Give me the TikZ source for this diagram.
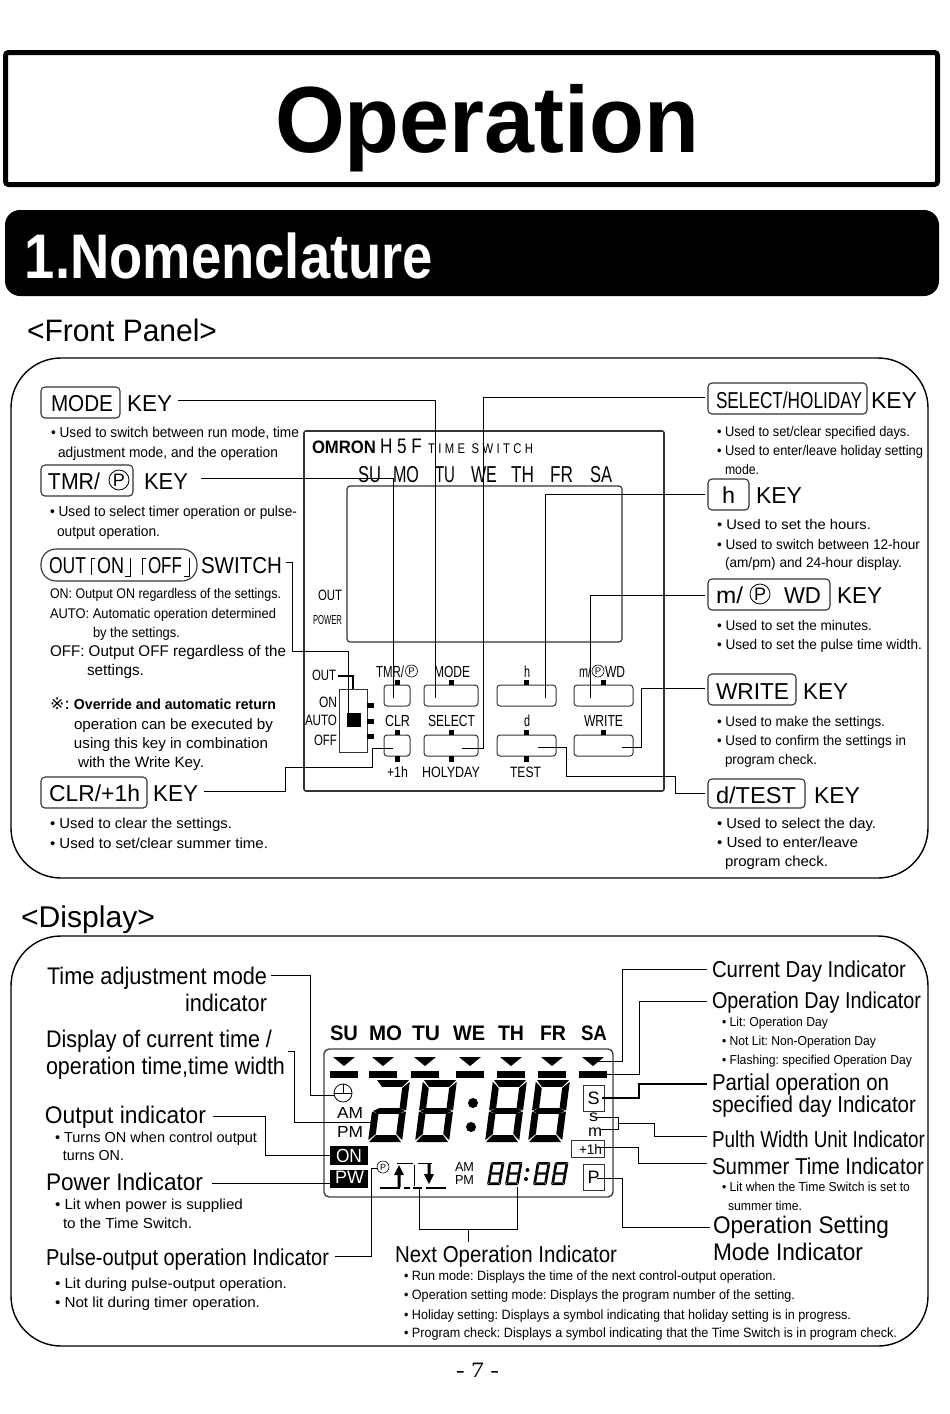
\documentclass[tikz,border=0pt]{standalone}
\usepackage{fontspec}
\usepackage{graphicx}
\setmainfont{Liberation Sans}
\newfontfamily\djv{DejaVu Sans}
\newfontfamily\lsfont[LetterSpace=30]{Liberation Sans}
\newfontfamily\srf{Liberation Serif}
\newsavebox\fitbox
\newlength\fitlen
% [options]{name}{x}{baseline y}{size}{right x}{text}
\newcommand\Tx[7][]{\node[anchor=base west,inner sep=0pt,outer sep=0pt,#1] (#2) at (#3,#4) {%
  \sbox\fitbox{\frenchspacing\fontsize{#5}{#5}\selectfont #7}%
  \fitlen=\wd\fitbox
  \pgfmathsetmacro\fitr{(#6-#3)/\fitlen}%
  \scalebox{\fitr}[1]{\usebox\fitbox}};}
% {name}{x1}{y1}{x2}{y2}
\newcommand\KB[6][]{\node[keybox,anchor=north west,minimum width={(#5-#3)*1pt},minimum height={(#6-#4)*1pt},#1] (#2) at (#3,#4) {};}
% {x of top-left}{y of top}{w}{h}{slant}{show upper-left}
\newcommand\SevenSeg[6]{\begin{scope}[shift={(#1-#5,#2+#4)},x={(#3pt,0pt)},y={(#5pt,#4pt)}]
 \fill (.03,1)--(.97,1)--(.8,.89)--(.2,.89)--cycle;
 \ifnum#6=1 \fill (0,.97)--(.2,.87)--(.2,.54)--(0,.51)--cycle;\fi
 \fill (1,.97)--(.8,.87)--(.8,.54)--(1,.51)--cycle;
 \fill (.03,.5)--(.2,.455)--(.8,.455)--(.97,.5)--(.8,.545)--(.2,.545)--cycle;
 \fill (0,.49)--(.2,.46)--(.2,.13)--(0,.03)--cycle;
 \fill (1,.49)--(.8,.46)--(.8,.13)--(1,.03)--cycle;
 \fill (.03,0)--(.97,0)--(.8,.11)--(.2,.11)--cycle;
\end{scope}}
\tikzset{
 conn/.style={draw=black,line width=1pt},
 keybox/.style={draw=black!80,line width=1.1pt,rounded corners=4pt,inner sep=0pt,outer sep=0pt},
 panelkey/.style={keybox,line width=1pt,rounded corners=3pt},
 cp/.style={circle,draw=black,line width=.8pt,inner sep=0pt,outer sep=0pt},
 frame/.style={draw=black,line width=1.4pt,rounded corners=50pt,anchor=north west,inner sep=0pt,outer sep=0pt},
}
\begin{document}
\begin{tikzpicture}[x=1pt,y=-1pt]
\useasboundingbox (0,0) rectangle (950,1414);
\fill[white] (0,0) rectangle (950,1414);
% title
\node[draw=black,line width=5pt,rounded corners=3pt,anchor=north west,minimum width=932pt,minimum height=132pt,inner sep=0pt,outer sep=0pt] (titlebox) at (5.5,52.5) {};
\Tx[font=\bfseries]{title}{275}{152}{94}{699}{Operation}
\node[fill=black,rounded corners=15pt,anchor=north west,minimum width=934pt,minimum height=86pt,inner sep=0pt,outer sep=0pt] (bar) at (5,210) {};
\Tx[font=\bfseries,text=white]{nomen}{25}{278}{63}{433}{1.Nomenclature}
\Tx{frontp}{27}{341}{31}{217}{<Front Panel>}
\node[frame,minimum width=917pt,minimum height=520pt] (frontgroup) at (11,358) {};
\Tx{dispt}{21}{927}{30}{155}{<Display>}
\node[frame,minimum width=917pt,minimum height=410pt] (dispgroup) at (11,936) {};

%% ---------- front panel, left
\KB{bMode}{41}{387}{120}{418}
\Tx{tMode}{51}{411}{23}{113}{MODE}
\Tx{kMode}{127}{411}{23}{172}{KEY}
\Tx{l1}{51}{437}{14.5}{299}{• Used to switch between run mode, time}
\Tx{l2}{58}{457}{14.5}{278}{adjustment mode, and the operation}
\KB{bTmr}{41}{465}{133}{496}
\Tx{tTmr}{48}{489}{23}{100}{TMR/}
\node[cp,minimum size=20pt] (pTmr) at (119,480) {\fontsize{18}{18}\selectfont P};
\Tx{kTmr}{144}{489}{23}{188}{KEY}
\Tx{l3}{50}{516}{14.5}{297}{• Used to select timer operation or pulse-}
\Tx{l4}{57}{536}{14.5}{160}{output operation.}
\KB[rounded corners=15pt]{bOut}{41}{549}{197}{581}
\Tx{tOut}{49}{573}{23}{86}{OUT}
\Tx{tOn}{97}{573}{23}{124}{ON}
\Tx{tOff}{148}{573}{23}{182}{OFF}
\draw[line width=.9pt] (95,558)--(91,558)--(91,575);
\draw[line width=.9pt] (125,576)--(130,576)--(130,558);
\draw[line width=.9pt] (146,558)--(142,558)--(142,575);
\draw[line width=.9pt] (184,576)--(189,576)--(189,558);
\Tx{kSwitch}{201}{573}{23}{282}{SWITCH}
\Tx{l5}{50}{598}{14}{281}{ON: Output ON regardless of the settings.}
\Tx{l6}{50}{618}{14}{276}{AUTO: Automatic operation determined}
\Tx{l7}{93}{637}{14}{180}{by the settings.}
\Tx{l8}{50}{656}{15.5}{286}{OFF: Output OFF regardless of the}
\Tx{l9}{87}{675}{15.5}{144}{settings.}
\Tx[font=\djv]{l10a}{50}{709}{16}{70}{※:}
\Tx[font=\bfseries]{l10}{74}{709}{14.5}{276}{Override and automatic return}
\Tx{l11}{74}{729}{15}{273}{operation can be executed by}
\Tx{l12}{74}{748}{15}{268}{using this key in combination}
\Tx{l13}{78}{767}{15}{204}{with the Write Key.}
\KB{bClr}{41}{777}{147}{808}
\Tx{tClr}{49}{801}{23}{140}{CLR/+1h}
\Tx{kClr}{153}{801}{23}{198}{KEY}
\Tx{l14}{50}{828}{14.5}{232}{• Used to clear the settings.}
\Tx{l15}{50}{848}{14.5}{268}{• Used to set/clear summer time.}

%% ---------- front panel, unit
\node[draw=black!80,line width=1.6pt,rounded corners=2pt,anchor=north west,minimum width=360pt,minimum height=360pt,inner sep=0pt,outer sep=0pt] (unit) at (304,431) {};
\Tx[font=\bfseries]{omron}{312}{453}{18}{376}{OMRON}
\Tx{hf}{380}{453}{21}{422}{H 5 F}
\Tx[font=\lsfont]{tsw}{428}{453}{14}{533}{TIME SWITCH}
\Tx{fSU}{358}{482}{23}{381}{SU}
\Tx{fMO}{393}{482}{23}{419}{MO}
\Tx{fTU}{435}{482}{23}{455}{TU}
\Tx{fWE}{471}{482}{23}{497}{WE}
\Tx{fTH}{511}{482}{23}{534}{TH}
\Tx{fFR}{550}{482}{23}{573}{FR}
\Tx{fSA}{590}{482}{23}{612}{SA}
\node[draw=black!80,line width=1.2pt,rounded corners=3pt,anchor=north west,minimum width=275pt,minimum height=156pt,inner sep=0pt,outer sep=0pt] (lcd) at (347,486) {};
\Tx{uOut}{318}{600}{15}{342}{OUT}
\Tx{uPow}{313}{624}{13}{342}{POWER}
\Tx{kl1}{376}{677}{16}{404}{TMR/}
\node[cp,minimum size=12pt,line width=.6pt] (kl1p) at (411.5,671) {\fontsize{9.5}{9.5}\selectfont P};
\Tx{kl2}{434}{677}{16}{470}{MODE}
\Tx{kl3}{524}{677}{16}{530}{h}
\Tx{kl4}{579}{677}{16}{591}{m/}
\node[cp,minimum size=12pt,line width=.6pt] (kl4p) at (598,671) {\fontsize{9.5}{9.5}\selectfont P};
\Tx{kl4b}{605}{677}{16}{625}{WD}
\Tx{kl5}{385}{726}{16}{410}{CLR}
\Tx{kl6}{428}{726}{16}{475}{SELECT}
\Tx{kl7}{524}{726}{16}{530}{d}
\Tx{kl8}{584}{726}{16}{623}{WRITE}
\Tx{kl9}{387}{777}{15}{408}{+1h}
\Tx{kl10}{422}{777}{15}{480}{HOLYDAY}
\Tx{kl11}{510}{777}{15}{541}{TEST}
\KB[panelkey]{pk1}{384}{685}{410}{706}
\KB[panelkey]{pk2}{424}{685}{478}{706}
\KB[panelkey]{pk3}{497}{685}{556}{706}
\KB[panelkey]{pk4}{574}{685}{633}{706}
\KB[panelkey]{pk5}{384}{735}{410}{756}
\KB[panelkey]{pk6}{424}{735}{478}{756}
\KB[panelkey]{pk7}{497}{735}{556}{756}
\KB[panelkey]{pk8}{574}{735}{633}{756}
\foreach \c in {397,451,526.5,603.5}{\fill (\c-2.5,680) rectangle (\c+2.5,685); \fill (\c-2.5,730) rectangle (\c+2.5,735);}
\foreach \c in {397,451,526.5}{\fill (\c-2.5,756) rectangle (\c+2.5,762);}
% switch
\Tx{sOut}{312}{680}{15}{336}{OUT}
\Tx{sOn}{319}{707}{15}{337}{ON}
\Tx{sAuto}{305}{725}{15}{337}{AUTO}
\Tx{sOff}{314}{745}{15}{337}{OFF}
\node[draw=black!80,line width=1pt,anchor=north west,minimum width=28pt,minimum height=63pt,inner sep=0pt,outer sep=0pt] (swbox) at (339,689) {};
\fill (347,713) rectangle (361,727);
\foreach \c in {705,721,736}{\fill (367,\c-2.5) rectangle (374,\c+2.5);}
\draw[line width=2pt] (338,676)--(353,676)--(353,689);

%% ---------- front panel, right
\KB{bSel}{708}{383}{867}{414}
\Tx{tSel}{716}{408}{23}{862}{SELECT/HOLIDAY}
\Tx{kSel}{871}{408}{23}{917}{KEY}
\Tx{r1}{717}{436}{14}{910}{• Used to set/clear specified days.}
\Tx{r2}{717}{455}{14}{923}{• Used to enter/leave holiday setting}
\Tx{r3}{725}{474}{14}{759}{mode.}
\KB{bH}{708}{479}{749}{510}
\Tx{tH}{722}{503}{23}{735}{h}
\Tx{kH}{756}{503}{23}{802}{KEY}
\Tx{r4}{717}{529}{14}{871}{• Used to set the hours.}
\Tx{r5}{717}{549}{14}{920}{• Used to switch between 12-hour}
\Tx{r6}{725}{567}{14}{902}{(am/pm) and 24-hour display.}
\KB{bM}{708}{579}{830}{610}
\Tx{tM}{716}{603}{23}{743}{m/}
\node[cp,minimum size=20pt] (pM) at (760,594) {\fontsize{18}{18}\selectfont P};
\Tx{tWD}{784}{603}{23}{821}{WD}
\Tx{kM}{837}{603}{23}{882}{KEY}
\Tx{r7}{717}{630}{14}{872}{• Used to set the minutes.}
\Tx{r8}{717}{649}{14}{922}{• Used to set the pulse time width.}
\KB{bW}{708}{674}{796}{705}
\Tx{tW}{716}{699}{23}{789}{WRITE}
\Tx{kW}{803}{699}{23}{848}{KEY}
\Tx{r9}{717}{726}{14}{885}{• Used to make the settings.}
\Tx{r10}{717}{745}{14}{906}{• Used to confirm the settings in}
\Tx{r11}{725}{764}{14}{817}{program check.}
\KB{bD}{708}{779}{805}{808}
\Tx{tD}{716}{803}{23}{796}{d/TEST}
\Tx{kD}{814}{803}{23}{860}{KEY}
\Tx{r12}{717}{828}{14.5}{876}{• Used to select the day.}
\Tx{r13}{717}{847}{14.5}{858}{• Used to enter/leave}
\Tx{r14}{725}{866}{14.5}{828}{program check.}

%% ---------- front panel connectors
\coordinate (a1) at (178,400); \coordinate (b1) at (435,698);
\coordinate (a2) at (201,478); \coordinate (b2) at (393,698);
\coordinate (a3) at (286,562); \coordinate (b3) at (348,714);
\coordinate (a4) at (204,791); \coordinate (b4) at (393,748);
\coordinate (a5) at (705,397); \coordinate (b5) at (462,748);
\coordinate (a6) at (705,494); \coordinate (b6) at (545.5,698);
\coordinate (a7) at (705,595); \coordinate (b7) at (590,698);
\coordinate (a8) at (705,688); \coordinate (b8) at (622,747);
\coordinate (a9) at (705,793); \coordinate (b9) at (538,747);
\draw[conn] (a1) -| (b1);
\draw[conn] (a2) -| (b2);
\draw[conn] (a3) -- (292,562) -- (292,651) -- (348,651) -- (b3);
\draw[conn] (a4) -- (285,791) -- (285,767) -- (372,767) -- (372,748) -- (b4);
\draw[conn] (a5) -- (483,397) -- (483,748) -- (b5);
\draw[conn] (a6) -| (b6);
\draw[conn] (a7) -| (b7);
\draw[conn] (a8) -- (641,688) -- (641,747) -- (b8);
\draw[conn] (a9) -- (675,793) -- (675,776) -- (566,776) -- (566,747) -- (b9);

%% ---------- display, left
\Tx{d1}{47}{984}{24}{267}{Time adjustment mode}
\Tx{d2}{185}{1011}{24}{267}{indicator}
\Tx{d3}{46}{1047}{24}{272}{Display of current time /}
\Tx{d4}{46}{1074}{24}{285}{operation time,time width}
\Tx{d5}{45}{1123}{24}{206}{Output indicator}
\Tx{d6}{55}{1142}{14.5}{257}{• Turns ON when control output}
\Tx{d7}{63}{1160}{14.5}{124}{turns ON.}
\Tx{d8}{46}{1190}{24}{203}{Power Indicator}
\Tx{d9}{55}{1209}{14.5}{243}{• Lit when power is supplied}
\Tx{d10}{63}{1228}{14.5}{192}{to the Time Switch.}
\Tx{d11}{46}{1265}{23}{329}{Pulse-output operation Indicator}
\Tx{d12}{55}{1288}{14.5}{287}{• Lit during pulse-output operation.}
\Tx{d13}{55}{1307}{14.5}{260}{• Not lit during timer operation.}

%% ---------- LCD
\Tx[font=\bfseries]{gSU}{330}{1040}{21}{358}{SU}
\Tx[font=\bfseries]{gMO}{369}{1040}{21}{402}{MO}
\Tx[font=\bfseries]{gTU}{412}{1040}{21}{440}{TU}
\Tx[font=\bfseries]{gWE}{453}{1040}{21}{485}{WE}
\Tx[font=\bfseries]{gTH}{498}{1040}{21}{524}{TH}
\Tx[font=\bfseries]{gFR}{540}{1040}{21}{566}{FR}
\Tx[font=\bfseries]{gSA}{581}{1040}{21}{607}{SA}
\node[draw=black!75,line width=1.4pt,rounded corners=5pt,anchor=north west,minimum width=289pt,minimum height=148pt,inner sep=0pt,outer sep=0pt] (dlcd) at (324,1049) {};
\foreach \c in {344,383,425,470,511,552,593}{
  \fill (\c-11,1057) -- (\c+11,1057) -- (\c,1066) -- cycle;
  \fill (\c-14,1071) rectangle (\c+14,1078);}
\node[cp,minimum size=18pt] (clock) at (343,1093) {};
\draw[line width=.8pt] (clock.west) -- (clock.east);
\draw[line width=.8pt] (clock.north) -- (clock.center);
\Tx{dAM}{337}{1118}{16}{363}{AM}
\Tx{dPM}{337}{1137}{16}{363}{PM}
\SevenSeg{376}{1080}{34}{62}{8}{0}
\SevenSeg{423}{1080}{34}{62}{8}{1}
\SevenSeg{493}{1080}{34}{62}{8}{1}
\SevenSeg{536}{1080}{34}{62}{8}{1}
\fill (473,1103) circle (5pt) (471,1127) circle (5pt);
\node[fill=black,anchor=north west,minimum width=38pt,minimum height=19pt,inner sep=0pt,outer sep=0pt] (onbox) at (330,1146) {};
\Tx[text=white]{onT}{336}{1162}{19}{362}{ON}
\node[fill=black,anchor=north west,minimum width=38pt,minimum height=18pt,inner sep=0pt,outer sep=0pt] (pwbox) at (330,1170) {};
\Tx[text=white]{pwT}{335}{1183}{18}{364}{PW}
\node[cp,minimum size=12pt,line width=.6pt] (pSmall) at (383,1167) {\fontsize{9}{9}\selectfont P};
\draw[line width=.8pt] (397,1163)--(413,1163) (418,1163)--(432,1163) (414,1165)--(414,1186);
\draw[line width=1.6pt] (380,1188)--(400,1188) (404,1188)--(410,1188) (413,1188)--(422,1188) (426,1188)--(446,1188);
\fill (397.5,1187)--(397.5,1175)--(394,1175)--(399,1165)--(404,1175)--(400.5,1175)--(400.5,1187)--cycle;
\fill (427.5,1163)--(427.5,1174)--(424,1174)--(429,1184)--(434,1174)--(430.5,1174)--(430.5,1163)--cycle;
\Tx{sAM}{455}{1171}{13}{474}{AM}
\Tx{sPM}{455}{1184}{13}{474}{PM}
\SevenSeg{491}{1162}{13.5}{23}{4}{1}
\SevenSeg{509}{1162}{13.5}{23}{4}{1}
\SevenSeg{537}{1162}{13.5}{23}{4}{1}
\SevenSeg{555}{1162}{13.5}{23}{4}{1}
\fill (527.5,1170) circle (2pt) (526,1179) circle (2pt);
\node[draw=black!80,line width=1pt,anchor=north west,minimum width=21pt,minimum height=26pt,inner sep=0pt,outer sep=0pt] (sBox) at (583,1085) {\fontsize{18}{18}\selectfont S};
\Tx{sUnit}{589}{1121}{16}{598}{s}
\Tx{mUnit}{588}{1136}{16}{602}{m}
\node[draw=black!80,line width=1pt,anchor=north west,minimum width=33pt,minimum height=17pt,inner sep=0pt,outer sep=0pt] (hBox) at (571,1140) {};
\Tx{hT}{579}{1154}{14}{602}{+1h}
\node[draw=black!80,line width=1pt,anchor=north west,minimum width=21pt,minimum height=26pt,inner sep=0pt,outer sep=0pt] (pBox) at (583,1164) {\fontsize{18}{18}\selectfont P};

%% ---------- display, right
\Tx{e1}{712}{977}{23}{906}{Current Day Indicator}
\Tx{e2}{712}{1008}{23}{921}{Operation Day Indicator}
\Tx{e3}{722}{1026}{13}{828}{• Lit: Operation Day}
\Tx{e4}{722}{1045}{13}{876}{• Not Lit: Non-Operation Day}
\Tx{e5}{722}{1064}{13}{912}{• Flashing: specified Operation Day}
\Tx{e6}{712}{1090}{23}{889}{Partial operation on}
\Tx{e7}{712}{1112}{23}{916}{specified day Indicator}
\Tx{e8}{712}{1147}{23}{925}{Pulth Width Unit Indicator}
\Tx{e9}{712}{1174}{23}{924}{Summer Time Indicator}
\Tx{e10}{722}{1191}{13}{910}{• Lit when the Time Switch is set to}
\Tx{e11}{728}{1210}{13}{802}{summer time.}
\Tx{e12}{713}{1233}{24}{889}{Operation Setting}
\Tx{e13}{713}{1260}{24}{863}{Mode Indicator}
\Tx{n0}{395}{1262}{23}{617}{Next Operation Indicator}
\Tx{n1}{404}{1280}{13.5}{776}{• Run mode: Displays the time of the next control-output operation.}
\Tx{n2}{404}{1299}{13.5}{795}{• Operation setting mode: Displays the program number of the setting.}
\Tx{n3}{404}{1319}{13.5}{851}{• Holiday setting: Displays a symbol indicating that holiday setting is in progress.}
\Tx{n4}{404}{1337}{13.5}{897}{• Program check: Displays a symbol indicating that the Time Switch is in program check.}
\Tx[font=\srf]{pg}{456}{1377}{22}{499}{- 7 -}

%% ---------- display connectors
\coordinate (f1) at (271,975); \coordinate (g1) at (334,1095);
\coordinate (f2) at (288,1051); \coordinate (g2) at (372,1122);
\coordinate (f3) at (213,1116); \coordinate (g3) at (330,1155);
\coordinate (f4) at (212,1183); \coordinate (g4) at (330,1183);
\coordinate (f5) at (335,1256); \coordinate (g5) at (378,1168);
\coordinate (f6) at (707,969); \coordinate (g6) at (593,1061);
\coordinate (f7) at (707,1001); \coordinate (g7) at (607,1074);
\coordinate (f8) at (707,1084); \coordinate (g8) at (602,1098);
\coordinate (f9) at (707,1136); \coordinate (g9) at (618,1123);
\coordinate (f10) at (707,1163); \coordinate (g10) at (597,1147);
\coordinate (f11) at (710,1227); \coordinate (g11) at (597,1178);
\coordinate (h1) at (419,1188); \coordinate (h2) at (517,1187); \coordinate (h3) at (468.5,1242);
\draw[conn] (f1) -- (310,975) -- (310,1095) -- (g1);
\draw[conn] (f2) -- (294,1051) -- (294,1122) -- (g2);
\draw[conn] (f3) -- (265,1116) -- (265,1155) -- (g3);
\draw[conn] (f4) -- (g4);
\draw[conn] (f5) -- (371,1256) -- (371,1168) -- (g5);
\draw[conn] (f6) -- (622,969) -- (622,1061) -- (g6);
\draw[conn] (f7) -- (639,1001) -- (639,1074) -- (g7);
\draw[conn,line width=1.8pt] (f8) -- (639,1084) -- (639,1098) -- (g8);
\draw[conn] (595,1117) -- (618,1117) -- (618,1129) -- (600,1129);
\draw[conn] (f9) -- (654,1136) -- (654,1123) -- (g9);
\draw[conn] (f10) -- (638,1163) -- (638,1147) -- (g10);
\draw[conn] (f11) -- (622,1227) -- (622,1178) -- (g11);
\draw[conn] (h1) -- (419,1229) -- (517,1229) -- (h2);
\draw[conn] (468.5,1229) -- (h3);
\end{tikzpicture}
\end{document}
